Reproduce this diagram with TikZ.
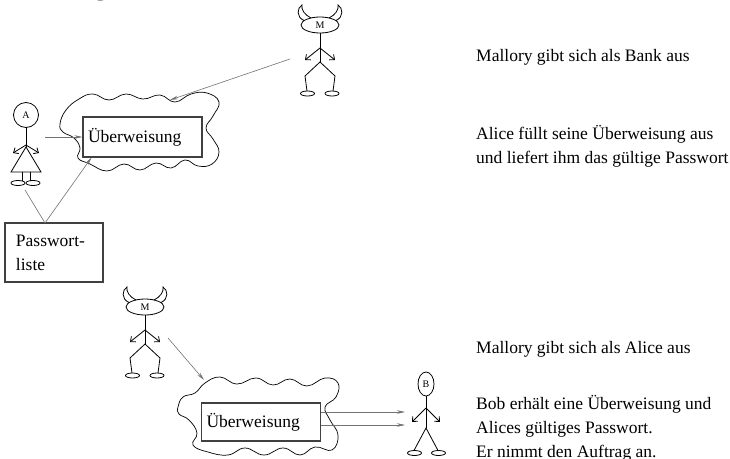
\documentclass[tikz,border=0pt]{standalone}
\usepackage{fontspec}
\setmainfont{Liberation Serif}
\usetikzlibrary{arrows.meta}
\tikzset{
  fig/.style={line width=0.8pt},
  hand/.style={-{Straight Barb[length=4pt,width=7pt]}},
  lbl/.style={font=\fontsize{10}{10}\selectfont, inner sep=0pt},
  alice/.pic={
    \draw[fig] (0,0) circle[radius=12.5pt];
    \node[lbl] at (0,0) {A};
    \draw[fig] (0,12.5) -- (0,32);
    \draw[fig,hand] (0,30) -- (-13,38);
    \draw[fig,hand] (0,30) -- (13,38);
    \draw[fig] (0,32) -- (-15,57) -- (15,57) -- cycle;
    \draw[fig] (-4,57) -- (-4,66) (4,57) -- (4,66);
    \draw[fig] (-8,68) ellipse[x radius=7pt, y radius=2.5pt];
    \draw[fig] (7,68) ellipse[x radius=7pt, y radius=2.5pt];
  },
  mallory/.pic={
    \draw[fig] (0,0) ellipse[x radius=19pt, y radius=8pt];
    \node[lbl] at (0,0) {M};
    \draw[fig] (-16,-4.5) .. controls (-24,-8) and (-23,-17) .. (-18,-20)
               .. controls (-19,-15) and (-15,-10) .. (-9,-7);
    \draw[fig] (16,-4.5) .. controls (24,-8) and (23,-17) .. (18,-20)
               .. controls (19,-15) and (15,-10) .. (9,-7);
    \draw[fig] (0,8) -- (0,37);
    \draw[fig,hand] (0,23) -- (-15,35);
    \draw[fig,hand] (0,23) -- (15,35);
    \draw[fig] (-13,66) -- (-15,51) -- (0,37) -- (15,51) -- (13,66);
    \draw[fig] (-12.5,68.5) ellipse[x radius=7pt, y radius=2.5pt];
    \draw[fig] (12,68.5) ellipse[x radius=7pt, y radius=2.5pt];
  },
  bob/.pic={
    \draw[fig] (0,0) ellipse[x radius=8pt, y radius=12pt];
    \node[lbl] at (0,0) {B};
    \draw[fig] (0,12) -- (0,44);
    \draw[fig,hand] (0,24) -- (-14,38);
    \draw[fig,hand] (0,24) -- (14,38);
    \draw[fig] (-12,66.5) -- (0,44) -- (12,66.5);
    \draw[fig] (-11.5,69) ellipse[x radius=7pt, y radius=2.5pt];
    \draw[fig] (12.5,69) ellipse[x radius=7pt, y radius=2.5pt];
  }
}
\begin{document}
\begin{tikzpicture}[x=1pt,y=-1pt,
  txt/.style={font=\fontsize{17.5}{24}\selectfont, inner sep=0pt, anchor=base west},
  doc/.style={draw=black!75, line width=1.1pt, fill=white,
    font=\fontsize{17.5}{24}\selectfont, align=left, text width=109pt,
    inner xsep=5pt, inner ysep=0pt, minimum height=40pt},
  msg/.style={draw=black!55, line width=0.6pt, -{Stealth[length=8pt,width=3.5pt]}},
  link/.style={draw=black!55, line width=0.6pt},
  cloudline/.style={draw=black, line width=0.7pt}
]
\path[use as bounding box, fill=white] (0,0) rectangle (730,458);

% heading, mostly above the page edge
\node[font=\bfseries\fontsize{29}{29}\selectfont, inner sep=0pt, anchor=base west]
  (title) at (0,-6) {Phishing-Attacke};

% ---------- Mallory poses as the bank ----------
\draw[cloudline] plot[smooth cycle, tension=0.75] coordinates {
  (60,124) (66,110) (79,99) (93,94) (109,100) (126,94) (143,99) (160,95)
  (175,102) (191,94) (207,93) (219,102) (213,116) (206,128) (213,139)
  (219,152) (212,164) (198,166) (185,160) (171,168) (156,163) (140,170)
  (124,164) (107,171) (90,164) (78,158) (80,148) (74,138) (63,132)};
\node[doc, minimum height=40pt] (tdoc) at (142.5,137) {Überweisung};

\pic at (26,115) {alice};
\pic at (320,25) {mallory};

\node[draw=black!75, line width=1.1pt, font=\fontsize{17.5}{24}\selectfont,
  align=left, text width=76pt, inner xsep=11pt, minimum height=59pt]
  (pw) at (54,252.5) {Passwort-\\liste};

\coordinate (aliceHand) at (45,137);
\coordinate (aliceFoot) at (25,190);
\coordinate (pwTop) at (45,223);
\coordinate (malloryA) at (290,59);
\coordinate (cloudA) at (170,100);

\draw[msg] (aliceHand) -- (tdoc.west);
\draw[link] (aliceFoot) -- (pwTop);
\draw[msg] (pwTop) -- ([xshift=9pt]tdoc.south west);
\draw[msg] (malloryA) -- (cloudA);

\node[txt] (t1) at (476,61) {Mallory gibt sich als Bank aus};
\node[txt] (t2) at (476,139) {Alice füllt seine Überweisung aus};
\node[txt] (t3) at (476,163) {und liefert ihm das gültige Passwort};

% ---------- Mallory poses as Alice ----------
\draw[cloudline] plot[smooth cycle, tension=0.75] coordinates {
  (178,407) (183,397) (195,393) (205,383) (220,377) (237,384) (256,378)
  (273,385) (290,379) (307,386) (325,378) (338,383) (336,397) (325,407)
  (330,420) (338,435) (332,450) (315,447) (300,455) (283,448) (264,455)
  (245,448) (228,455) (208,452) (193,445) (197,433) (189,420) (179,414)};
\node[doc, minimum height=38pt] (bdoc) at (261,422) {Überweisung};

\pic at (145,307) {mallory};
\pic at (426,384) {bob};

\coordinate (malloryB) at (168,338);
\coordinate (cloudB) at (204,380);
\coordinate (bobA) at (405,412);
\coordinate (bobB) at (405,425);

\draw[msg] (malloryB) -- (cloudB);
\draw[msg] (bdoc.east |- bobA) -- (bobA);
\draw[msg] (bdoc.east |- bobB) -- (bobB);

\node[txt] (t4) at (476,353) {Mallory gibt sich als Alice aus};
\node[txt] (t5) at (476,409) {Bob erhält eine Überweisung und};
\node[txt] (t6) at (476,433) {Alices gültiges Passwort.};
\node[txt] (t7) at (476,457) {Er nimmt den Auftrag an.};
\end{tikzpicture}
\end{document}
